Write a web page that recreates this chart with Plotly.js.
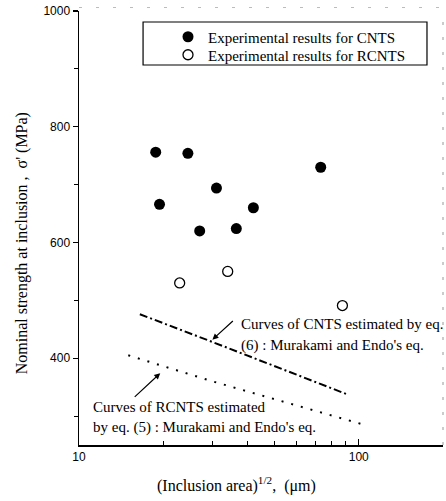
<!DOCTYPE html>
<html>
<head>
<meta charset="utf-8">
<script src="https://cdn.plot.ly/plotly-3.0.1.min.js"></script>
<style>html,body{margin:0;padding:0;background:#fff;}#chart{width:446px;height:501px;}</style>
</head>
<body>
<div id="chart"></div>
<script>
// Experimental results for CNTS (filled circles)
const cntsX = [18.8, 24.5, 73.1, 31.0, 19.4, 42.0, 27.0, 36.5];
const cntsY = [756, 754, 730, 694, 666, 660, 620, 624];
// Experimental results for RCNTS (open circles)
const rcntsX = [22.9, 34.0, 87.4];
const rcntsY = [530, 550, 491];
// Estimated curves (Murakami and Endo's eq.)
const curveCntsX = [16.5, 30.0, 91.5];
const curveCntsY = [476, 428, 337];
const curveRcntsX = [15.0, 30.0, 104.4];
const curveRcntsY = [405, 360, 285];
// Tick labels
const xTickVals = [10, 100];
const xTickText = ['10', '100'];
const xMinorVals = [20, 30, 40, 50, 60, 70, 80, 90, 200];
const yTickVals = [400, 600, 800, 1000];
const yTickText = ['400', '600', '800', '1000'];
const yMinorVals = [300, 500, 700, 900];

const serif = 'Liberation Serif, Times New Roman, serif';
const sans = 'Liberation Sans, Arial, sans-serif';

const traces = [
  {x: cntsX, y: cntsY, type: 'scatter', mode: 'markers', name: 'Experimental results for CNTS',
   legend: 'legend', marker: {symbol: 'circle', size: 11, color: '#000'}},
  {x: rcntsX, y: rcntsY, type: 'scatter', mode: 'markers', name: 'Experimental results for RCNTS',
   legend: 'legend2', marker: {symbol: 'circle-open', size: 10, color: '#000', line: {width: 1.3, color: '#000'}}},
  {x: curveCntsX, y: curveCntsY, type: 'scatter', mode: 'lines', showlegend: false,
   line: {color: '#000', width: 2, dash: '8px,3px,2px,3px'}},
  {x: curveRcntsX, y: curveRcntsY, type: 'scatter', mode: 'lines', showlegend: false,
   line: {color: '#000', width: 2, dash: '2px,8px'}}
];

const legendCommon = {xanchor: 'left', yanchor: 'top', bgcolor: 'rgba(0,0,0,0)', borderwidth: 0,
                      font: {family: serif, size: 15, color: '#000'}};

const layout = {
  width: 446, height: 501,
  margin: {l: 79, r: 3, t: 11, b: 56, pad: 0},
  paper_bgcolor: '#fff', plot_bgcolor: '#fff',
  showlegend: true,
  legend: Object.assign({x: 0.2445, y: 0.9781}, legendCommon),
  legend2: Object.assign({x: 0.2445, y: 0.9366}, legendCommon),
  xaxis: {type: 'log', range: [1, Math.log10(200)], showgrid: false, zeroline: false,
          showline: true, linecolor: '#000', linewidth: 1.5, mirror: false,
          tickvals: xTickVals, ticktext: xTickText, ticks: 'inside', ticklen: 6, tickwidth: 1.2, tickcolor: '#000',
          minor: {tickvals: xMinorVals, ticks: 'inside', ticklen: 4, tickwidth: 1, tickcolor: '#000', showgrid: false},
          tickfont: {family: sans, size: 12, color: '#000'}},
  yaxis: {range: [250, 1000], showgrid: false, zeroline: false,
          showline: true, linecolor: '#000', linewidth: 1.5, mirror: false,
          tickvals: yTickVals, ticktext: yTickText, ticks: 'outside', ticklen: 5, tickwidth: 1.2, tickcolor: '#000',
          minor: {tickvals: yMinorVals, ticks: 'outside', ticklen: 4, tickwidth: 1, tickcolor: '#000', showgrid: false},
          tickfont: {family: sans, size: 12, color: '#000'}},
  shapes: [
    {type: 'rect', xref: 'paper', yref: 'paper', x0: 0.176, x1: 0.956, y0: 0.8756, y1: 0.9747,
     line: {color: '#000', width: 1.2}, fillcolor: 'rgba(0,0,0,0)'},
    {type: 'line', xref: 'paper', yref: 'paper', x0: 1, x1: 1, y0: 0, y1: 1,
     line: {color: '#999', width: 1, dash: '3px,12px'}},
    {type: 'line', xref: 'paper', yref: 'paper', x0: 0, x1: 1, y0: 1.008, y1: 1.008,
     line: {color: '#bbb', width: 1, dash: '3px,14px'}}
  ],
  annotations: [
    {xref: 'paper', yref: 'paper', x: 0.4395, y: 0.2788, xanchor: 'left', yanchor: 'middle', showarrow: false,
     text: 'Curves of CNTS estimated by eq.', font: {family: serif, size: 15, color: '#000'}},
    {xref: 'paper', yref: 'paper', x: 0.4395, y: 0.2304, xanchor: 'left', yanchor: 'middle', showarrow: false,
     text: "(6) : Murakami and Endo's eq.", font: {family: serif, size: 15, color: '#000'}},
    {xref: 'paper', yref: 'paper', x: 0.033, y: 0.0869, xanchor: 'left', yanchor: 'middle', showarrow: false,
     text: 'Curves of RCNTS estimated', font: {family: serif, size: 15, color: '#000'}},
    {xref: 'paper', yref: 'paper', x: 0.033, y: 0.0408, xanchor: 'left', yanchor: 'middle', showarrow: false,
     text: "by eq. (5) : Murakami and Endo's eq.", font: {family: serif, size: 15, color: '#000'}},
    {xref: 'x', yref: 'y', x: 1.4767, y: 432, ax: 22, ay: -20, text: '', showarrow: true,
     arrowhead: 2, arrowsize: 1, arrowwidth: 1.2, arrowcolor: '#000'},
    {xref: 'x', yref: 'y', x: 1.2903, y: 374, ax: -27, ay: 25, text: '', showarrow: true,
     arrowhead: 2, arrowsize: 1, arrowwidth: 1.2, arrowcolor: '#000'},
    {xref: 'paper', yref: 'paper', x: -0.1566, y: 0.465, xanchor: 'center', yanchor: 'middle', showarrow: false,
     textangle: -90, text: "Nominal strength at inclusion ,  σ' (MPa)", font: {family: serif, size: 16, color: '#000'}},
    {xref: 'paper', yref: 'paper', x: 0.433, y: -0.09, xanchor: 'center', yanchor: 'middle', showarrow: false,
     text: '(Inclusion area)<sup>1/2</sup>,  (μm)', font: {family: serif, size: 16, color: '#000'}}
  ]
};

Plotly.newPlot('chart', traces, layout, {displayModeBar: false, staticPlot: true});
</script>
</body>
</html>
